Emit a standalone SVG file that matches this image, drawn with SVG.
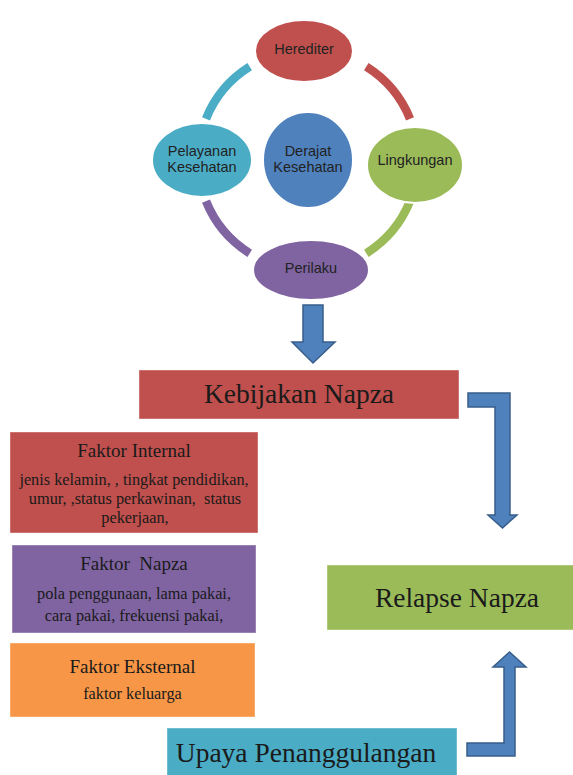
<svg xmlns="http://www.w3.org/2000/svg" width="573" height="775" viewBox="0 0 573 775">
<style>
.sans{font-family:"Liberation Sans",Arial,sans-serif;font-size:14.5px;fill:#222;text-anchor:middle}
.serif{font-family:"Liberation Serif","Times New Roman",serif;fill:#1a1a1a;text-anchor:middle;white-space:pre}
.big{font-size:27.5px}
.head{font-size:19px}
.body{font-size:16.3px}
.ell{stroke:#fff;stroke-width:2}
.ring{fill:none;stroke-width:8.5}
.arrow{fill:#4f81bd;stroke:#385d8a;stroke-width:1.5;stroke-linejoin:miter}
.box{stroke:#fff;stroke-opacity:0.4;stroke-width:1}
</style>
<rect width="573" height="775" fill="#fff"/>
<g id="connectors">
<path class="ring" stroke="#c0504d" d="M366.3,66.7 A110,110 0 0 1 410,118.8"/>
<path class="ring" stroke="#9bbb59" d="M410,201.2 A110,110 0 0 1 366.3,253.3"/>
<path class="ring" stroke="#8064a2" d="M249.7,253.3 A110,110 0 0 1 206,201.2"/>
<path class="ring" stroke="#4bacc6" d="M206,118.8 A110,110 0 0 1 249.7,66.7"/>
<polygon class="arrow" points="303,305 323,305 323,342 335,342 313,363 292,342 303,342"/>
<polygon class="arrow" points="468,393 510,393 510,515 517,515 502.5,528 488,515 495,515 495,407 468,407"/>
<polygon class="arrow" points="467,743 504,743 504,667 493,667 509.5,652 526,667 515,667 515,756 467,756"/>
</g>
<g id="herediter">
<ellipse class="ell" cx="304" cy="51" rx="49" ry="31" fill="#c0504d"/>
<text class="sans" x="304" y="54">Herediter</text>
</g>
<g id="lingkungan">
<ellipse class="ell" cx="415" cy="165" rx="48" ry="38" fill="#9bbb59"/>
<text class="sans" x="415" y="165">Lingkungan</text>
</g>
<g id="perilaku">
<ellipse class="ell" cx="311" cy="270" rx="58" ry="30" fill="#8064a2"/>
<text class="sans" x="311" y="273">Perilaku</text>
</g>
<g id="pelayanan-kesehatan">
<ellipse class="ell" cx="202" cy="160" rx="50" ry="37" fill="#4bacc6"/>
<text class="sans" x="202" y="156">Pelayanan</text>
<text class="sans" x="202" y="172">Kesehatan</text>
</g>
<g id="derajat-kesehatan">
<ellipse class="ell" cx="308" cy="160" rx="45" ry="48" fill="#4f81bd"/>
<text class="sans" x="308" y="156">Derajat</text>
<text class="sans" x="308" y="172">Kesehatan</text>
</g>
<g id="kebijakan-napza">
<rect class="box" x="139" y="370" width="320" height="49" fill="#c0504d"/>
<text class="serif big" x="299" y="403">Kebijakan Napza</text>
</g>
<g id="faktor-internal">
<rect class="box" x="10" y="432" width="248" height="101" fill="#c0504d"/>
<text class="serif head" x="134" y="457">Faktor Internal</text>
<text class="serif body" x="134" y="485">jenis kelamin, , tingkat pendidikan,</text>
<text class="serif body" x="135" y="504">umur, ,status perkawinan,  status</text>
<text class="serif body" x="135" y="523">pekerjaan,</text>
</g>
<g id="faktor-napza">
<rect class="box" x="12" y="545" width="244" height="88" fill="#8064a2"/>
<text class="serif head" x="134" y="570">Faktor  Napza</text>
<text class="serif body" x="134" y="599">pola penggunaan, lama pakai,</text>
<text class="serif body" x="134" y="621">cara pakai, frekuensi pakai,</text>
</g>
<g id="faktor-eksternal">
<rect class="box" x="10" y="643" width="245" height="74" fill="#f79646"/>
<text class="serif head" x="132.5" y="673">Faktor Eksternal</text>
<text class="serif body" x="132.5" y="699">faktor keluarga</text>
</g>
<g id="relapse-napza">
<rect class="box" x="327" y="565" width="250" height="65" fill="#9bbb59"/>
<text class="serif big" x="457" y="607">Relapse Napza</text>
</g>
<g id="upaya-penanggulangan">
<rect class="box" x="167" y="728" width="290" height="52" fill="#4bacc6"/>
<text class="serif big" x="306" y="762">Upaya Penanggulangan</text>
</g>
</svg>
